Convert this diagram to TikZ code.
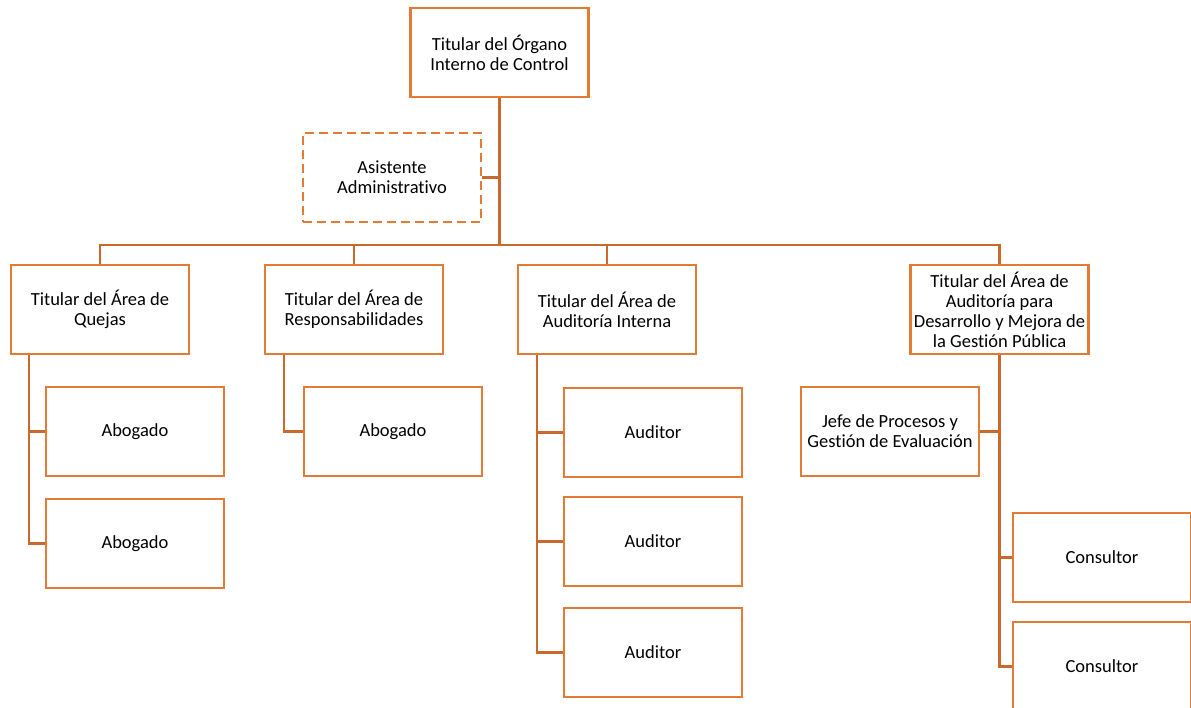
\documentclass[tikz,border=0pt]{standalone}
\usepackage{fontspec}
\setmainfont{Carlito}[Ligatures={NoCommon}]
\definecolor{boxorange}{HTML}{E47B35}
\definecolor{lineorange}{HTML}{C9692C}
\begin{document}
\begin{tikzpicture}[x=1pt,y=-1pt,
  box/.style={draw=boxorange,line width=2.8pt,fill=white,minimum width=178pt,minimum height=89pt,
    align=center,inner sep=1pt,font=\fontsize{18.5pt}{20pt}\selectfont,text=black},
  dbox/.style={box,dash pattern=on 9pt off 5pt,line width=2.5pt},
  conn/.style={draw=lineorange,line width=2.5pt}]
\useasboundingbox (0,0) rectangle (1191,708);
\clip (0,0) rectangle (1191,708);
% nodes
\node[box] (top) at (499.5,52.5) {Titular del Órgano\\Interno de Control};
\node[dbox] (asist) at (392,177.5) {Asistente\\Administrativo};
\node[box] (quejas) at (100,309.5) {Titular del Área de\\Quejas};
\node[box] (resp) at (354,309.5) {Titular del Área de\\Responsabilidades};
\node[box] (audint) at (607,309.5) {Titular del Área de\\Auditoría Interna};
\node[box] (desa) at (999.5,309.5) {Titular del Área de\\Auditoría para\\Desarrollo y Mejora de\\la Gestión Pública};
\node[box] (abq1) at (135,431.5) {Abogado};
\node[box] (abq2) at (135,543.5) {Abogado};
\node[box] (abr) at (393,431.5) {Abogado};
\node[box] (aud1) at (653,432.5) {Auditor};
\node[box] (aud2) at (653,541.5) {Auditor};
\node[box] (aud3) at (653,652.5) {Auditor};
\node[box] (jefe) at (890,431.5) {Jefe de Procesos y\\Gestión de Evaluación};
\node[box] (cons1) at (1102,557.5) {Consultor};
\node[box] (cons2) at (1102,666.5) {Consultor};
% connectors
\coordinate (bus) at (499.5,245);
\draw[conn] (top.south) -- (bus);
\draw[conn] (asist.east) -- (asist.east -| top.south);
\draw[conn] (quejas.north) |- (bus) -| (desa.north);
\draw[conn] (resp.north) -- (resp.north |- bus);
\draw[conn] (audint.north) -- (audint.north |- bus);
\draw[conn] ([xshift=-71pt]quejas.south) |- (abq1.west);
\draw[conn] ([xshift=-71pt]quejas.south) |- (abq2.west);
\draw[conn] ([xshift=-70pt]resp.south) |- (abr.west);
\draw[conn] ([xshift=-70pt]audint.south) |- (aud1.west);
\draw[conn] ([xshift=-70pt]audint.south) |- (aud2.west);
\draw[conn] ([xshift=-70pt]audint.south) |- (aud3.west);
\draw[conn] (desa.south) |- (jefe.east);
\draw[conn] (desa.south) |- (cons1.west);
\draw[conn] (desa.south) |- (cons2.west);
\end{tikzpicture}
\end{document}
